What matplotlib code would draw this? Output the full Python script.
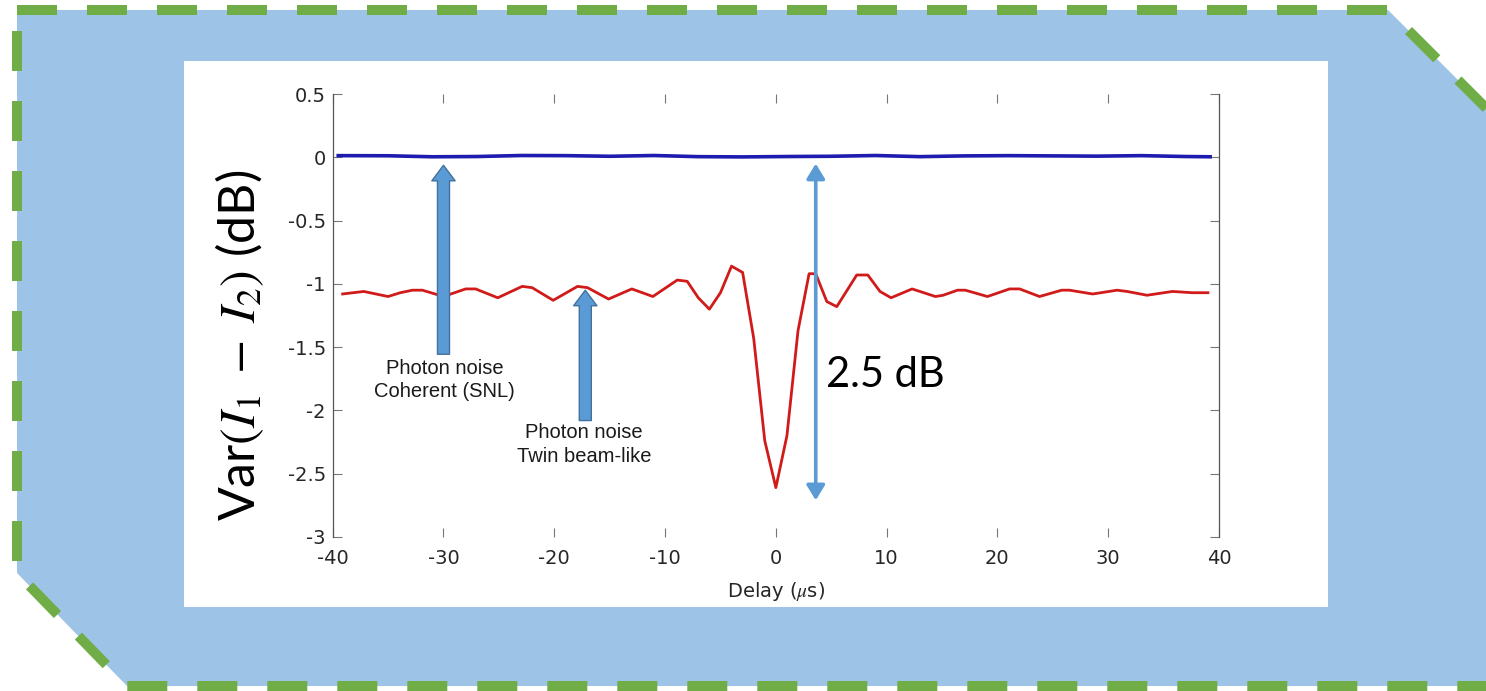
import matplotlib
matplotlib.use("Agg")
import matplotlib.pyplot as plt
from matplotlib.patches import Polygon, Rectangle
from matplotlib.lines import Line2D

plt.rcParams['mathtext.fontset'] = 'stix'

# ---------------- data ----------------
delay_red = [-39.1, -37.2, -35.0, -33.9, -32.8, -31.9, -30.0, -28.0, -27.1, -25.1,
             -22.9, -22.0, -20.1, -17.9, -17.0, -15.1, -13.0, -11.1, -8.9, -8.0,
             -7.0, -6.0, -5.0, -4.0, -3.0, -2.0, -1.0, 0.0, 1.0, 2.0,
             3.0, 3.6, 4.6, 5.5, 7.3, 8.3, 9.4, 10.4, 12.3, 14.4,
             15.1, 16.4, 17.1, 19.1, 21.1, 22.0, 23.8, 25.8, 26.5, 28.6,
             30.8, 31.7, 33.5, 35.8, 37.6, 39.0]
var_red = [-1.08, -1.06, -1.10, -1.07, -1.05, -1.05, -1.10, -1.04, -1.04, -1.11,
           -1.02, -1.03, -1.13, -1.02, -1.03, -1.12, -1.04, -1.10, -0.97, -0.98,
           -1.11, -1.20, -1.07, -0.86, -0.91, -1.43, -2.24, -2.61, -2.20, -1.37,
           -0.92, -0.92, -1.14, -1.18, -0.93, -0.93, -1.06, -1.11, -1.04, -1.10,
           -1.09, -1.05, -1.05, -1.10, -1.04, -1.04, -1.10, -1.05, -1.05, -1.08,
           -1.05, -1.06, -1.09, -1.06, -1.07, -1.07]

delay_blue = [-39.5, -35.0, -31.0, -27.0, -23.0, -19.0, -15.0, -11.0, -7.0, -3.0,
              1.0, 5.0, 9.0, 13.0, 17.0, 21.0, 25.0, 29.0, 33.0, 37.0, 39.2]
var_blue = [0.013, 0.012, 0.004, 0.006, 0.014, 0.013, 0.008, 0.014, 0.005, 0.003,
            0.006, 0.008, 0.014, 0.005, 0.011, 0.013, 0.011, 0.009, 0.013, 0.006, 0.004]

xticks = [-40, -30, -20, -10, 0, 10, 20, 30, 40]
xticklabels = ['-40', '-30', '-20', '-10', '0', '10', '20', '30', '40']
yticks = [0.5, 0, -0.5, -1, -1.5, -2, -2.5, -3]
yticklabels = ['0.5', '0', '-0.5', '-1', '-1.5', '-2', '-2.5', '-3']

# ---------------- figure ----------------
W, H = 1486, 691
fig = plt.figure(figsize=(W / 100, H / 100), dpi=100)


def fp(px, py):
    return (px / W, 1 - py / H)


BG_BLUE = '#9DC3E6'
GREEN = '#70AD47'
ARROW_FC = '#5B9BD5'
ARROW_EC = '#41719C'

bg = Polygon([fp(17, 10), fp(1388, 10), fp(1700, 322), fp(1700, 686),
              fp(127, 686), fp(17, 573)], closed=True, transform=fig.transFigure,
             facecolor=BG_BLUE, edgecolor='none', zorder=-3)
fig.add_artist(bg)

for path in ([(17, 10), (1388, 10), (1700, 322)],
             [(17, 31), (17, 573), (127, 686), (1700, 686)]):
    xs = [fp(*p)[0] for p in path]
    ys = [fp(*p)[1] for p in path]
    ln = Line2D(xs, ys, transform=fig.transFigure, color=GREEN, lw=7.2,
                linestyle=(0, (4, 3)), dash_capstyle='butt', dash_joinstyle='miter',
                zorder=-2)
    fig.add_artist(ln)

x0, y0 = fp(184, 607)
x1, y1 = fp(1328, 61)
fig.add_artist(Rectangle((x0, y0), x1 - x0, y1 - y0, transform=fig.transFigure,
                         facecolor='white', edgecolor='none', zorder=-1))

# axes
ax_l, ax_b = fp(332.7, 537)
ax_r, ax_t = fp(1219, 94)
ax = fig.add_axes([ax_l, ax_b, ax_r - ax_l, ax_t - ax_b])
ax.set_facecolor('none')

ax.plot(delay_blue, var_blue, color='#1c1cb0', lw=2.6, zorder=3)
ax.plot(delay_red, var_red, color='#d11a1a', lw=2.0, zorder=3)

ax.set_xlim(-40, 40)
ax.set_ylim(-3, 0.5)
ax.set_xticks(xticks)
ax.set_xticklabels(xticklabels)
ax.set_yticks(yticks)
ax.set_yticklabels(yticklabels)
for s in ('top', 'bottom'):
    ax.spines[s].set_visible(False)
for s in ('left', 'right'):
    ax.spines[s].set_color('#555555')
    ax.spines[s].set_linewidth(0.9)
ax.tick_params(axis='both', which='both', direction='in', top=True, right=True,
               length=6.5, width=0.8, color='#777777', labelsize=14,
               labelcolor='#262626')
ax.tick_params(axis='x', pad=9)
ax.tick_params(axis='y', pad=5)
ax.set_xlabel(r'Delay ($\mu$s)', fontsize=14, color='#262626', labelpad=8)

# block arrows
block_style = 'simple,head_length=0.8,head_width=1.2,tail_width=0.62'
ax.annotate('', xy=(-30.0, -0.063), xytext=(-30.0, -1.556),
            arrowprops=dict(arrowstyle=block_style, fc=ARROW_FC, ec=ARROW_EC, lw=1.0,
                            shrinkA=0, shrinkB=0, mutation_scale=14),
            annotation_clip=False, zorder=5)
ax.annotate('', xy=(-17.2, -1.05), xytext=(-17.2, -2.08),
            arrowprops=dict(arrowstyle=block_style, fc=ARROW_FC, ec=ARROW_EC, lw=1.0,
                            shrinkA=0, shrinkB=0, mutation_scale=14),
            annotation_clip=False, zorder=5)
# double-headed arrow
ax.annotate('', xy=(3.6, -2.71), xytext=(3.6, -0.05),
            arrowprops=dict(arrowstyle='<|-|>,head_length=0.9,head_width=0.55',
                            color=ARROW_FC, lw=2.6, shrinkA=0, shrinkB=0,
                            mutation_scale=10),
            annotation_clip=False, zorder=5)

# annotation texts
ax.text(-29.9, -1.76, 'Photon noise\nCoherent (SNL)', ha='center', va='center',
        fontsize=14.5, family='Liberation Sans', color='#1a1a1a', linespacing=1.3)
ax.text(-17.3, -2.27, 'Photon noise\nTwin beam-like', ha='center', va='center',
        fontsize=14.5, family='Liberation Sans', color='#1a1a1a', linespacing=1.3)
ax.text(4.5, -1.72, '2.5 dB', ha='left', va='center', fontsize=30, family='Lato',
        color='black')

# y label
fig.text(*fp(240, 345), r'Var$(I_1\;-\;I_2)$ (dB)', rotation=90, ha='center',
         va='center', fontsize=36, family='Lato', color='black')

fig.savefig('out.png', dpi=100)
